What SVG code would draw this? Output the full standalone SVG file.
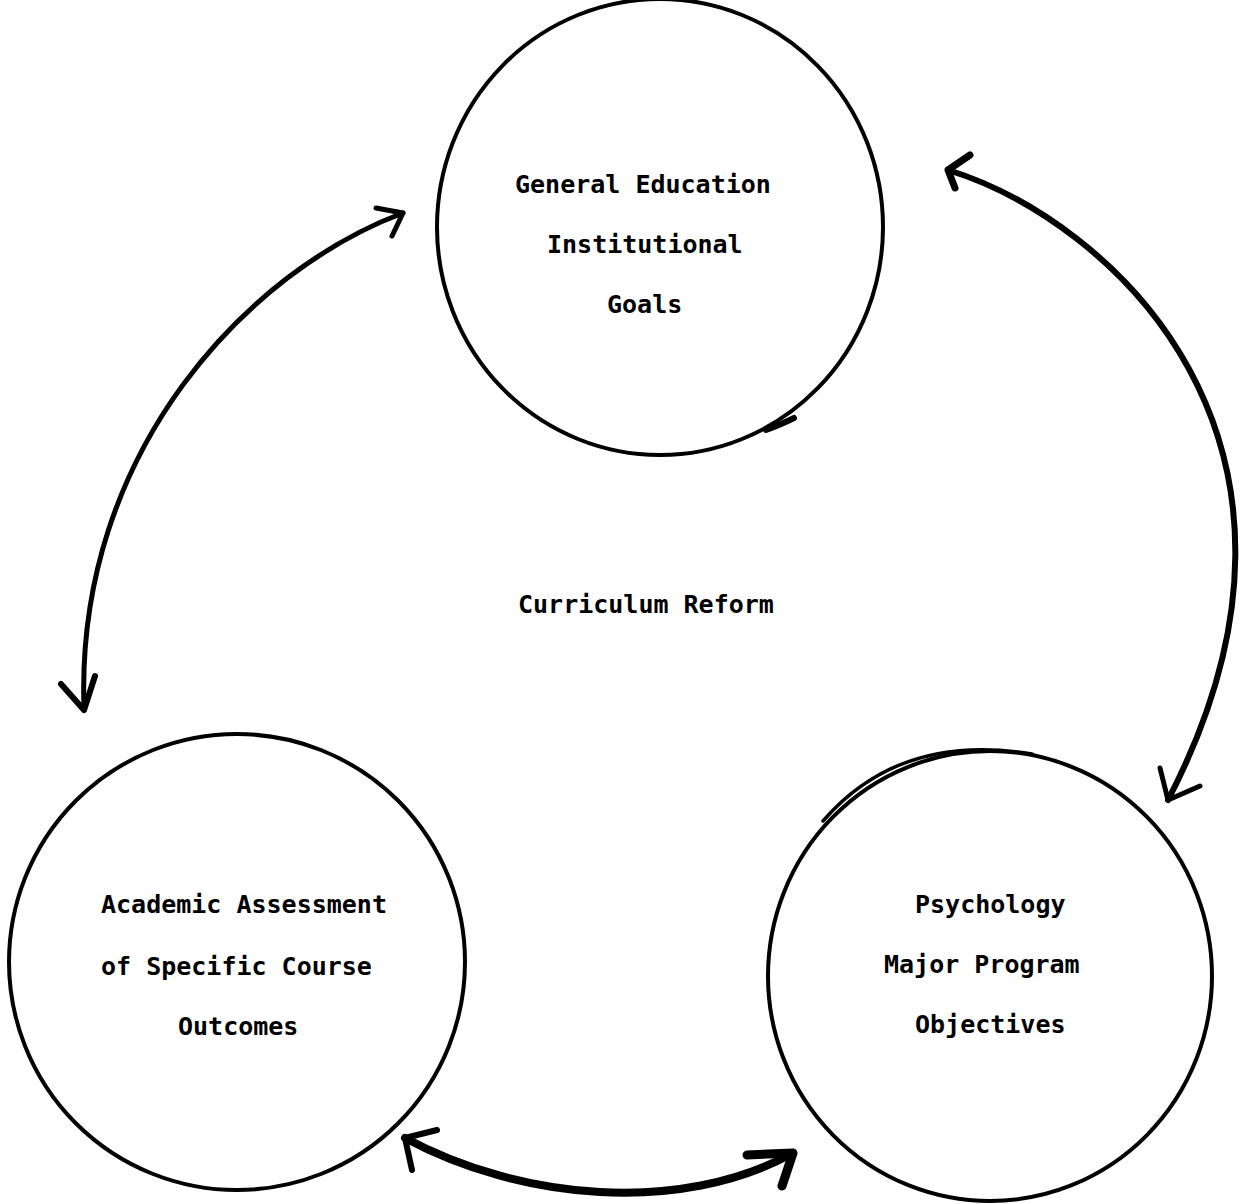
<svg xmlns="http://www.w3.org/2000/svg" width="1247" height="1204" viewBox="0 0 1247 1204">
<style>
.ring{fill:none;stroke:#000;stroke-width:4}
.arc{fill:none;stroke:#000;stroke-linecap:round;stroke-linejoin:round}
.lbl{font-family:"DejaVu Sans Mono","Liberation Mono",monospace;font-size:25px;fill:#000;font-weight:bold}
</style>
<rect width="1247" height="1204" fill="#fff"/>
<g id="node-general-education">
<ellipse class="ring" cx="660" cy="227" rx="223" ry="228"/>
<path class="arc" stroke-width="6" d="M766,430 Q782,424 794,418"/>
<text class="lbl" x="515" y="193">General Education</text>
<text class="lbl" x="547" y="253">Institutional</text>
<text class="lbl" x="607" y="313">Goals</text>
</g>
<g id="node-curriculum-reform">
<text class="lbl" x="518" y="613">Curriculum Reform</text>
</g>
<g id="node-academic-assessment">
<ellipse class="ring" cx="237" cy="962" rx="228" ry="228"/>
<text class="lbl" x="101" y="913">Academic Assessment</text>
<text class="lbl" x="101" y="975">of Specific Course</text>
<text class="lbl" x="178" y="1035">Outcomes</text>
</g>
<g id="node-psychology">
<ellipse class="ring" cx="990" cy="976" rx="222" ry="225"/>
<path class="arc" stroke-width="3.5" d="M823,821 Q900,732 1032,754"/>
<text class="lbl" x="915" y="913">Psychology</text>
<text class="lbl" x="884" y="973">Major Program</text>
<text class="lbl" x="915" y="1033">Objectives</text>
</g>
<g id="connectors">
<path class="arc" stroke-width="5" d="M403,213 C250,270 75,450 84,708"/>
<path class="arc" stroke-width="5" d="M376,208 L403,213 L392,236"/>
<path class="arc" stroke-width="6" d="M61,684 L84,710 L95,676"/>
<path class="arc" stroke-width="6" d="M948,170 C1110,220 1355,440 1168,800"/>
<path class="arc" stroke-width="7" d="M970,155 L948,170 L955,188"/>
<path class="arc" stroke-width="5" d="M1160,768 L1168,800 L1200,786"/>
<path class="arc" stroke-width="8" d="M405,1138 C520,1200 680,1215 793,1153"/>
<path class="arc" stroke-width="6" d="M437,1130 L405,1138 L412,1170"/>
<path class="arc" stroke-width="9" d="M747,1155 L793,1153 L782,1186"/>
</g>
</svg>
